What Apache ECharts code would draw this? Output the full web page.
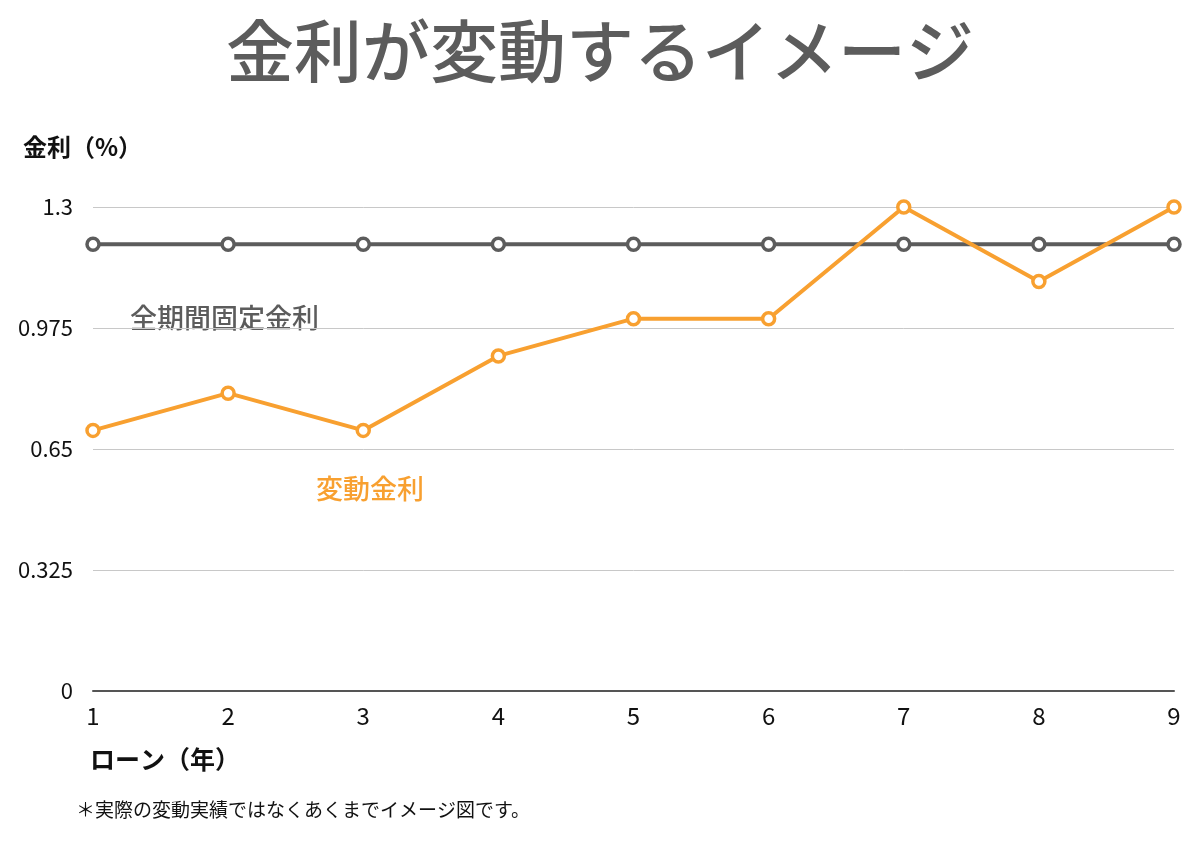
<!DOCTYPE html>
<html><head><meta charset="utf-8">
<script src="https://cdn.jsdelivr.net/npm/echarts@6/dist/echarts.min.js"></script>
<style>html,body{margin:0;padding:0;background:#fff}#c{width:1200px;height:841px}</style>
</head><body><div id="c"></div>
<script>
const years = ['1','2','3','4','5','6','7','8','9'];
const fixedRate = [1.2,1.2,1.2,1.2,1.2,1.2,1.2,1.2,1.2];
const variableRate = [0.7,0.8,0.7,0.9,1.0,1.0,1.3,1.1,1.3];
const yTicks = {min:0, max:1.3, interval:0.325};
const FONT = '"Noto Sans CJK JP","Noto Sans",sans-serif';
const chart = echarts.init(document.getElementById('c'));
chart.setOption({
  backgroundColor:'#fff',
  animation:false,
  title:{text:'金利が変動するイメージ',left:'center',top:12,
    textStyle:{fontFamily:FONT,fontSize:68,fontWeight:500,color:'#5c5c5c'}},
  grid:{left:93,right:26,top:207,bottom:150,containLabel:false},
  xAxis:{type:'category',data:years,boundaryGap:false,
    name:'ローン（年）',nameLocation:'start',
    nameTextStyle:{fontFamily:FONT,fontSize:25,fontWeight:'bold',color:'#111',align:'left',verticalAlign:'top',padding:[56,0,0,-3]},
    nameGap:0,
    axisLine:{lineStyle:{color:'#555',width:2}},axisTick:{show:false},
    axisLabel:{fontFamily:FONT,fontSize:24,color:'#111',margin:13}},
  yAxis:{type:'value',min:yTicks.min,max:yTicks.max,interval:yTicks.interval,
    name:'金利（%）',nameLocation:'end',nameGap:48,
    nameTextStyle:{fontFamily:FONT,fontSize:24,fontWeight:'bold',color:'#111',align:'left',padding:[0,0,0,-70]},
    axisLine:{show:false},axisTick:{show:false},
    axisLabel:{fontFamily:FONT,fontSize:22,color:'#111',margin:20},
    splitLine:{lineStyle:{color:'#c8c8c8',width:1}}},
  series:[
    {type:'line',data:fixedRate,color:'#5c5c5c',symbol:'circle',symbolSize:12,
      lineStyle:{width:4,color:'#5c5c5c'},
      itemStyle:{color:'#fff',borderColor:'#5c5c5c',borderWidth:3.5}},
    {type:'line',data:variableRate,color:'#f8a030',symbol:'circle',symbolSize:12,
      lineStyle:{width:4,color:'#f8a030'},
      itemStyle:{color:'#fff',borderColor:'#f8a030',borderWidth:3.5}}
  ],
  graphic:[
    {type:'text',left:130,top:304,style:{text:'全期間固定金利',font:'500 27px '+FONT,fill:'#5c5c5c'}},
    {type:'text',left:316,top:475,style:{text:'変動金利',font:'500 27px '+FONT,fill:'#f8a030'}},
    {type:'text',left:76,top:800,style:{text:'＊実際の変動実績ではなくあくまでイメージ図です。',font:'19px '+FONT,fill:'#111'}}
  ]
});
</script></body></html>
